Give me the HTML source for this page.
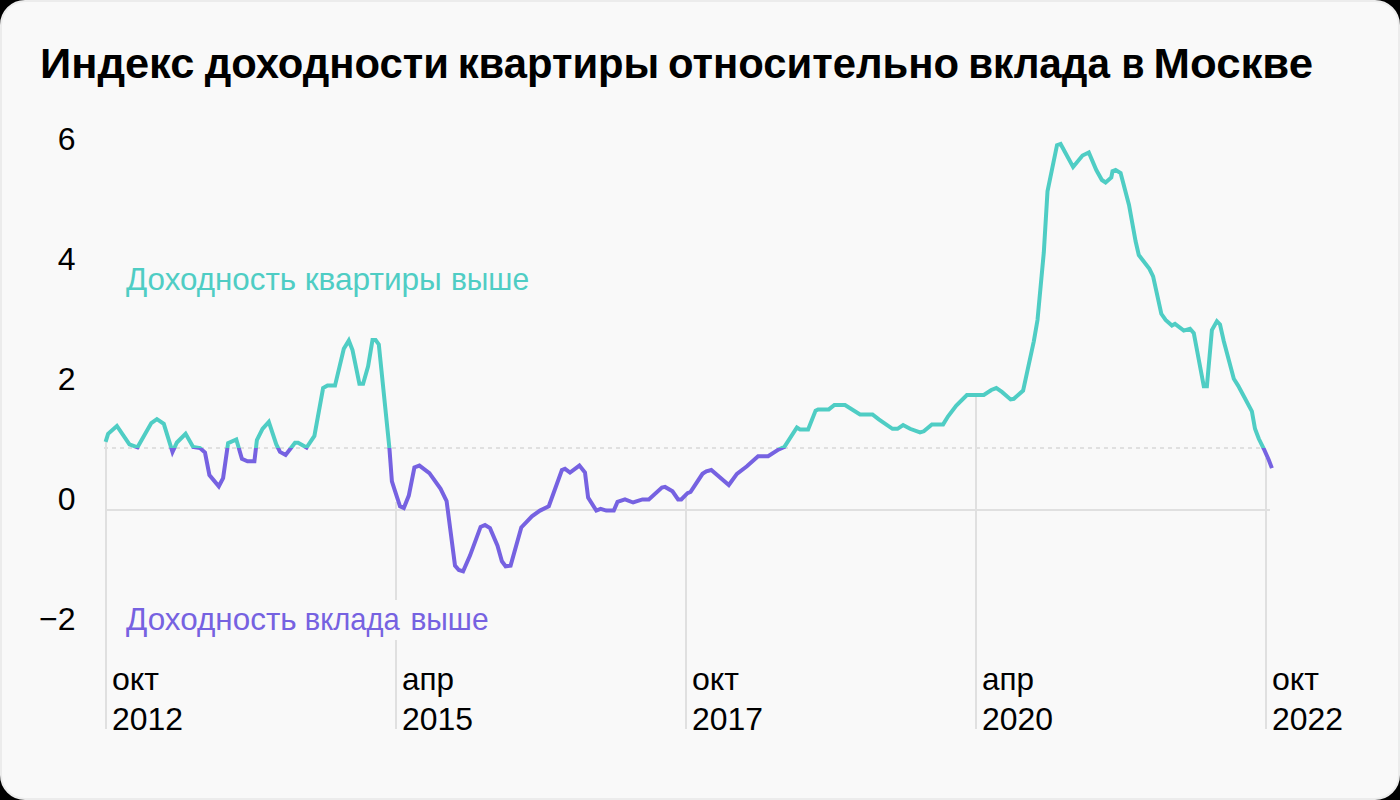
<!DOCTYPE html>
<html><head><meta charset="utf-8">
<style>
html,body{margin:0;padding:0;background:#000;width:1400px;height:800px;overflow:hidden}
svg{display:block}
text{font-family:"Liberation Sans",sans-serif}
</style></head>
<body>
<svg width="1400" height="800" viewBox="0 0 1400 800">
<defs>
<clipPath id="cu"><rect x="0" y="0" width="1400" height="448"/></clipPath>
<clipPath id="cd"><rect x="0" y="448" width="1400" height="352"/></clipPath>
</defs>
<rect x="1" y="1" width="1398" height="798" rx="24" ry="24" fill="#f9f9f9" stroke="#ececec" stroke-width="2"/>
<g font-size="43" font-weight="bold" fill="#000"><text x="39.97" y="78" textLength="154.41" lengthAdjust="spacingAndGlyphs">Индекс</text><text x="204.70" y="78" textLength="244.25" lengthAdjust="spacingAndGlyphs">доходности</text><text x="457.68" y="78" textLength="201.63" lengthAdjust="spacingAndGlyphs">квартиры</text><text x="667.95" y="78" textLength="291.06" lengthAdjust="spacingAndGlyphs">относительно</text><text x="968.18" y="78" textLength="141.74" lengthAdjust="spacingAndGlyphs">вклада</text><text x="1121.40" y="78" textLength="22.95" lengthAdjust="spacingAndGlyphs">в</text><text x="1153.55" y="78" textLength="159.48" lengthAdjust="spacingAndGlyphs">Москве</text></g>
<g font-size="32" fill="#000" text-anchor="end">
<text x="75.5" y="150">6</text>
<text x="75.5" y="270">4</text>
<text x="75.5" y="390">2</text>
<text x="75.5" y="510">0</text>
<text x="75.5" y="630">−2</text>
</g>
<g stroke="#e0e0e0" stroke-width="2" fill="none">
<line x1="106" y1="510" x2="1270" y2="510"/>
<line x1="104" y1="448" x2="1264" y2="448" stroke-dasharray="4 4"/>
<line x1="106" y1="442" x2="106" y2="729"/>
<line x1="396" y1="502" x2="396" y2="600"/>
<line x1="396" y1="640" x2="396" y2="729"/>
<line x1="686" y1="495" x2="686" y2="729"/>
<line x1="976" y1="395" x2="976" y2="729"/>
<line x1="1266" y1="458" x2="1266" y2="729"/>
</g>
<g font-size="32" fill="#000">
<text x="112" y="690" textLength="47" lengthAdjust="spacingAndGlyphs">окт</text><text x="112" y="730" textLength="71" lengthAdjust="spacingAndGlyphs">2012</text>
<text x="402" y="690" textLength="52" lengthAdjust="spacingAndGlyphs">апр</text><text x="402" y="730" textLength="71" lengthAdjust="spacingAndGlyphs">2015</text>
<text x="692" y="690" textLength="47" lengthAdjust="spacingAndGlyphs">окт</text><text x="692" y="730" textLength="71" lengthAdjust="spacingAndGlyphs">2017</text>
<text x="982" y="690" textLength="52" lengthAdjust="spacingAndGlyphs">апр</text><text x="982" y="730" textLength="71" lengthAdjust="spacingAndGlyphs">2020</text>
<text x="1272" y="690" textLength="47" lengthAdjust="spacingAndGlyphs">окт</text><text x="1272" y="730" textLength="71" lengthAdjust="spacingAndGlyphs">2022</text>
</g>
<g font-size="32" fill="#4fcdc4"><text x="126.00" y="290" textLength="170.16" lengthAdjust="spacingAndGlyphs">Доходность</text><text x="304.78" y="290" textLength="137.06" lengthAdjust="spacingAndGlyphs">квартиры</text><text x="450.88" y="290" textLength="78.25" lengthAdjust="spacingAndGlyphs">выше</text></g>
<g font-size="32" fill="#7662e1"><text x="126.00" y="630" textLength="170.66" lengthAdjust="spacingAndGlyphs">Доходность</text><text x="304.68" y="630" textLength="94.93" lengthAdjust="spacingAndGlyphs">вклада</text><text x="410.38" y="630" textLength="78.25" lengthAdjust="spacingAndGlyphs">выше</text></g>
<g fill="none" stroke-width="4" stroke-linejoin="miter" stroke-linecap="butt">
<path clip-path="url(#cu)" stroke="#4fcdc4" d="M105.6,441.9 L108.1,433.8 L116.9,426.0 L129.4,444.4 L137.5,447.3 L151.3,423.1 L156.9,419.2 L163.8,423.8 L172.5,452.0 L176.9,442.5 L185.6,433.8 L193.1,446.9 L200.0,448.1 L205.0,452.5 L209.4,475.0 L218.8,486.3 L223.1,478.1 L228.1,443.1 L236.3,439.4 L241.9,458.8 L247.5,461.3 L254.4,461.3 L256.9,440.0 L262.5,428.8 L268.8,421.9 L276.3,444.4 L280.0,451.9 L285.6,455.0 L295.0,442.8 L298.1,442.8 L306.6,447.5 L314.4,435.9 L323.1,388.1 L327.5,385.6 L335.0,385.6 L343.8,348.8 L348.8,340.6 L352.5,350.0 L359.4,383.8 L363.1,383.8 L368.1,366.3 L372.5,340.0 L375.6,340.0 L378.8,344.4 L389.4,448.1 L391.9,481.3 L400.0,506.3 L403.8,508.1 L408.8,495.6 L414.4,467.5 L419.4,465.6 L429.4,473.1 L440.6,488.8 L446.6,501.0 L455.0,565.6 L458.8,570.0 L463.1,571.3 L470.0,555.6 L480.6,526.9 L485.0,525.0 L490.0,528.1 L497.5,545.6 L501.9,561.3 L505.6,566.3 L510.6,565.6 L521.3,527.5 L531.9,516.3 L540.0,510.6 L548.8,506.3 L561.9,470.0 L565.0,468.8 L570.0,472.5 L579.4,465.6 L585.0,472.5 L588.1,497.5 L596.3,510.6 L600.6,508.8 L606.3,510.6 L613.8,510.6 L617.5,501.9 L625.0,499.4 L633.1,502.5 L642.5,499.4 L648.8,499.4 L661.9,487.5 L665.0,486.9 L672.5,491.3 L678.1,499.4 L681.3,499.4 L687.5,493.1 L690.6,491.9 L702.5,473.8 L706.3,471.3 L711.3,470.0 L728.8,485.0 L736.9,473.8 L746.9,466.3 L758.1,456.3 L768.1,456.3 L778.8,449.4 L784.4,446.9 L796.9,427.5 L800.0,429.4 L808.1,429.4 L815.6,410.6 L818.1,409.4 L828.8,409.4 L834.4,405.0 L845.0,405.0 L860.0,414.4 L872.5,414.4 L878.8,419.4 L892.5,428.8 L897.5,428.8 L903.1,425.0 L910.0,428.8 L920.0,432.5 L923.8,431.3 L931.9,424.4 L943.1,424.4 L948.1,416.3 L956.3,405.6 L966.9,395.0 L983.8,395.0 L991.3,390.0 L996.3,388.1 L1001.9,391.9 L1010.6,399.4 L1013.8,398.8 L1023.1,390.6 L1033.8,341.3 L1037.5,320.0 L1043.8,252.5 L1047.5,191.3 L1057.0,145.2 L1060.6,144.0 L1073.1,166.9 L1082.5,155.5 L1088.8,152.5 L1096.3,170.0 L1101.9,180.0 L1105.6,182.5 L1111.3,177.5 L1112.5,171.3 L1115.6,170.0 L1120.6,173.1 L1129.0,205.0 L1135.6,241.3 L1138.8,255.0 L1149.4,268.8 L1153.1,276.3 L1161.3,313.8 L1165.6,320.0 L1171.9,325.6 L1175.0,323.8 L1183.8,330.6 L1190.0,328.8 L1193.8,333.1 L1203.8,386.3 L1206.9,386.3 L1211.9,330.0 L1216.9,321.3 L1220.0,324.4 L1223.8,341.3 L1233.8,378.8 L1238.1,385.6 L1242.5,393.8 L1251.9,411.3 L1255.0,428.8 L1258.8,438.8 L1263.8,448.8 L1268.8,460.0 L1271.9,468.1"/>
<path clip-path="url(#cd)" stroke="#7662e1" d="M105.6,441.9 L108.1,433.8 L116.9,426.0 L129.4,444.4 L137.5,447.3 L151.3,423.1 L156.9,419.2 L163.8,423.8 L172.5,452.0 L176.9,442.5 L185.6,433.8 L193.1,446.9 L200.0,448.1 L205.0,452.5 L209.4,475.0 L218.8,486.3 L223.1,478.1 L228.1,443.1 L236.3,439.4 L241.9,458.8 L247.5,461.3 L254.4,461.3 L256.9,440.0 L262.5,428.8 L268.8,421.9 L276.3,444.4 L280.0,451.9 L285.6,455.0 L295.0,442.8 L298.1,442.8 L306.6,447.5 L314.4,435.9 L323.1,388.1 L327.5,385.6 L335.0,385.6 L343.8,348.8 L348.8,340.6 L352.5,350.0 L359.4,383.8 L363.1,383.8 L368.1,366.3 L372.5,340.0 L375.6,340.0 L378.8,344.4 L389.4,448.1 L391.9,481.3 L400.0,506.3 L403.8,508.1 L408.8,495.6 L414.4,467.5 L419.4,465.6 L429.4,473.1 L440.6,488.8 L446.6,501.0 L455.0,565.6 L458.8,570.0 L463.1,571.3 L470.0,555.6 L480.6,526.9 L485.0,525.0 L490.0,528.1 L497.5,545.6 L501.9,561.3 L505.6,566.3 L510.6,565.6 L521.3,527.5 L531.9,516.3 L540.0,510.6 L548.8,506.3 L561.9,470.0 L565.0,468.8 L570.0,472.5 L579.4,465.6 L585.0,472.5 L588.1,497.5 L596.3,510.6 L600.6,508.8 L606.3,510.6 L613.8,510.6 L617.5,501.9 L625.0,499.4 L633.1,502.5 L642.5,499.4 L648.8,499.4 L661.9,487.5 L665.0,486.9 L672.5,491.3 L678.1,499.4 L681.3,499.4 L687.5,493.1 L690.6,491.9 L702.5,473.8 L706.3,471.3 L711.3,470.0 L728.8,485.0 L736.9,473.8 L746.9,466.3 L758.1,456.3 L768.1,456.3 L778.8,449.4 L784.4,446.9 L796.9,427.5 L800.0,429.4 L808.1,429.4 L815.6,410.6 L818.1,409.4 L828.8,409.4 L834.4,405.0 L845.0,405.0 L860.0,414.4 L872.5,414.4 L878.8,419.4 L892.5,428.8 L897.5,428.8 L903.1,425.0 L910.0,428.8 L920.0,432.5 L923.8,431.3 L931.9,424.4 L943.1,424.4 L948.1,416.3 L956.3,405.6 L966.9,395.0 L983.8,395.0 L991.3,390.0 L996.3,388.1 L1001.9,391.9 L1010.6,399.4 L1013.8,398.8 L1023.1,390.6 L1033.8,341.3 L1037.5,320.0 L1043.8,252.5 L1047.5,191.3 L1057.0,145.2 L1060.6,144.0 L1073.1,166.9 L1082.5,155.5 L1088.8,152.5 L1096.3,170.0 L1101.9,180.0 L1105.6,182.5 L1111.3,177.5 L1112.5,171.3 L1115.6,170.0 L1120.6,173.1 L1129.0,205.0 L1135.6,241.3 L1138.8,255.0 L1149.4,268.8 L1153.1,276.3 L1161.3,313.8 L1165.6,320.0 L1171.9,325.6 L1175.0,323.8 L1183.8,330.6 L1190.0,328.8 L1193.8,333.1 L1203.8,386.3 L1206.9,386.3 L1211.9,330.0 L1216.9,321.3 L1220.0,324.4 L1223.8,341.3 L1233.8,378.8 L1238.1,385.6 L1242.5,393.8 L1251.9,411.3 L1255.0,428.8 L1258.8,438.8 L1263.8,448.8 L1268.8,460.0 L1271.9,468.1"/>
</g>
</svg>
</body></html>
